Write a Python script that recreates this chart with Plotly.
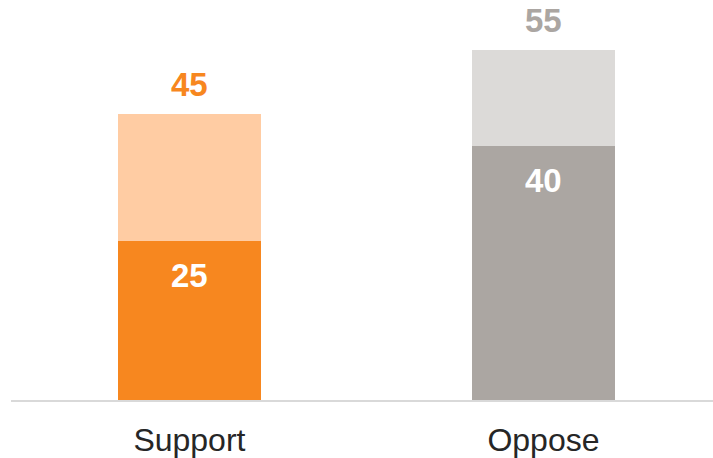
import plotly.graph_objects as go

categories = ["Support", "Oppose"]
strongValues = [25, 40]
otherValues = [20, 15]
totals = [45, 55]

strongColors = ["#F7871F", "#ABA6A2"]
otherColors = ["#FFCCA3", "#DCDAD8"]
totalColors = ["#F7871F", "#ABA6A2"]

fig = go.Figure()

fig.add_trace(
    go.Bar(
        x=categories,
        y=strongValues,
        marker_color=strongColors,
        marker_line_width=0,
        width=0.402,
        hoverinfo="skip",
    )
)
fig.add_trace(
    go.Bar(
        x=categories,
        y=otherValues,
        marker_color=otherColors,
        marker_line_width=0,
        width=0.402,
        hoverinfo="skip",
    )
)

for cat, strong, total, color in zip(categories, strongValues, totals, totalColors):
    fig.add_annotation(
        x=cat, y=strong, text="<b>%d</b>" % strong,
        showarrow=False, yanchor="top", yshift=-14,
        font=dict(size=33, color="white"),
    )
    fig.add_annotation(
        x=cat, y=total, text="<b>%d</b>" % total,
        showarrow=False, yanchor="bottom", yshift=9,
        font=dict(size=33, color=color),
    )

fig.update_layout(
    barmode="stack",
    width=713,
    height=458,
    margin=dict(l=11, r=0, t=0, b=58),
    paper_bgcolor="white",
    plot_bgcolor="white",
    showlegend=False,
    font=dict(family="Liberation Sans, Arial, sans-serif", color="#262626"),
    xaxis=dict(
        range=[-0.504, 1.479],
        showline=True,
        linecolor="#D9D9D9",
        linewidth=2,
        showgrid=False,
        ticks="",
        ticklabelstandoff=11,
        tickfont=dict(size=32, color="#262626"),
    ),
    yaxis=dict(
        range=[0, 62.9],
        visible=False,
        showgrid=False,
        zeroline=False,
    ),
)

fig.write_html(
    "out.html",
    config={"displayModeBar": False},
    post_script="document.body.style.margin='0';document.body.style.overflow='hidden';",
)
